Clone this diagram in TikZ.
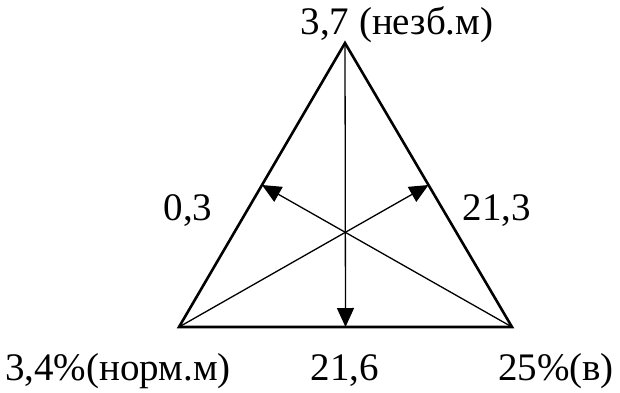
\documentclass[tikz,border=0pt]{standalone}
\usepackage{fontspec}
\setmainfont{Liberation Serif}
\usetikzlibrary{arrows.meta, calc}
\tikzstyle{side} = [line width=2.6pt, line join=miter]
\tikzstyle{median} = [line width=1.3pt, -{Triangle[length=19pt,width=17pt]}]
\tikzstyle{lbl} = [inner sep=0pt, font=\fontsize{39}{44}\selectfont]

\begin{document}
\begin{tikzpicture}[x=1pt, y=-1pt]
        \useasboundingbox (0,0) rectangle (620,392);
        \coordinate (top) at (345,43);
        \coordinate (left) at (179,327);
        \coordinate (right) at (512,327);
        \coordinate (midl) at ($(left)!0.5!(top)$);
        \coordinate (midr) at ($(right)!0.5!(top)$);
        \coordinate (midb) at ($(left)!0.5!(right)$);
        \draw[side] (left) -- (right) -- (top) -- cycle;
        \draw[median] (top) -- (midb);
        \draw[median] (right) -- (midl);
        \draw[median] (left) -- (midr);
        \node[lbl] (ntop) at (397,25) {3,7 (незб.м)};
        \node[lbl] (nl) at (188,211) {0,3};
        \node[lbl] (nr) at (497,211) {21,3};
        \node[lbl] (nbl) at (118,371) {3,4\%(норм.м)};
        \node[lbl] (nbm) at (345,371) {21,6};
        \node[lbl] (nbr) at (556,371) {25\%(в)};
    \end{tikzpicture}
\end{document}
